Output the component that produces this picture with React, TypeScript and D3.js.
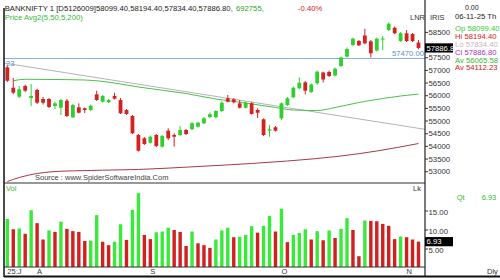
import React from 'react';
import * as d3 from 'd3';

const W = 500;
const H = 280;

// OHLC per trading day (29 Jul 2025 .. 06 Nov 2025)
const opens = [57122, 56316, 55961, 56383, 55910, 56226, 55870, 55870, 55594, 55526,
  55803, 55147, 55542, 55503, 55436, 56056, 55763, 55740, 55989, 55831,
  55436, 55199, 54449, 54319, 54145, 54449, 53987, 54619, 54449, 54449,
  54646, 54674, 54777, 54911, 55160, 55150, 55396, 55898, 55858, 55700,
  55526, 55700, 55436, 55069, 54619, 54753, 55108, 55633, 55937, 56293,
  56529, 56147, 56490, 56916, 56936, 56798, 57173, 57540, 58002, 58160,
  58377, 58148, 57785, 58219, 58594, 58685, 58160, 58464, 58436, 58099.4];
const highs = [57173, 56699, 56383, 56443, 56462, 56277, 55949, 55910, 55763, 55870,
  55870, 55673, 55700, 55534, 55653, 56198, 56028, 55870, 56119, 55910,
  55475, 55238, 54488, 54370, 54429, 54488, 54449, 54713, 54516, 54804,
  54686, 54962, 54982, 55159, 55340, 55420, 55771, 56028, 55910, 55831,
  55771, 55752, 55503, 55100, 54844, 54804, 55732, 55949, 56364, 56727,
  56581, 56482, 56995, 56956, 56995, 57114, 57548, 57903, 58298, 58200,
  58646, 58200, 58298, 58357, 58890, 58732, 58515, 58594, 58476, 58194.4];
const lows = [56541, 56068, 55910, 56147, 55594, 55673, 55653, 55515, 55475, 55238,
  55159, 55120, 55298, 55317, 55396, 55791, 55732, 55712, 55850, 55278,
  55238, 54488, 53797, 54054, 54113, 53975, 53955, 54251, 53987, 54409,
  54449, 54646, 54745, 54883, 55110, 55100, 55357, 55732, 55692, 55495,
  55495, 55258, 55120, 54409, 54382, 54587, 55041, 55594, 55910, 56253,
  56056, 56107, 56423, 56522, 56739, 56759, 57134, 57509, 57963, 57963,
  58030, 57509, 57746, 57804, 58555, 58436, 58120, 58120, 58120, 57834.4];
const closes = [56593, 56119, 56253, 56198, 55989, 55724, 55724, 55554, 55700, 55831,
  55199, 55633, 55329, 55436, 55606, 55831, 55989, 55831, 55882, 55305,
  55278, 54516, 53829, 54093, 54382, 54014, 54409, 54319, 54382, 54646,
  54488, 54911, 54935, 55108, 55270, 55400, 55724, 55763, 55740, 55526,
  55724, 55278, 55329, 54449, 54674, 54619, 55700, 55898, 56316, 56514,
  56198, 56443, 56948, 56640, 56778, 57066, 57509, 57844, 58251, 57990,
  58069, 57674, 58251, 58259, 58843, 58464, 58464, 58160, 58160, 57886.8];

// volume in lakhs
const volumes = [12.9, 10.2, 10.4, 9.0, 15.2, 11.8, 7.5, 9.9, 9.5, 12.2,
  10.3, 9.7, 9.5, 7.1, 7.2, 13.9, 6.9, 6.0, 6.9, 11.5,
  7.4, 15.3, 19.7, 8.7, 7.6, 9.4, 9.6, 10.6, 10.0, 9.5,
  5.8, 9.6, 6.5, 6.0, 5.3, 7.5, 9.9, 10.6, 8.1, 8.2,
  8.7, 11.0, 9.3, 11.1, 13.7, 9.6, 15.6, 6.8, 8.7, 9.2,
  10.2, 7.5, 9.7, 7.3, 9.9, 7.9, 10.3, 13.1, 10.0, 3.1,
  12.5, 12.4, 12.3, 11.6, 11.1, 7.6, 8.3, 8.1, 7.5, 6.93];

// moving averages (read at key candles)
const avg50Idx = [1, 3, 8, 13, 18, 22, 30, 35, 40, 45, 48, 52, 55, 59, 63, 66, 69];
const avg50Vals = [56593, 56650, 56640, 56620, 56502, 56344, 56087, 55870, 55712, 55534,
  55436, 55416, 55534, 55732, 55890, 55989, 56065.58];
const avg200Idx = [0, 2, 5, 10, 22, 32, 41, 47, 56, 62, 69];
const avg200Vals = [52613, 52771, 52929, 53028, 53087, 53205, 53324, 53422, 53620, 53817, 54112.23];

// trend line "23"
const trendIdx = [-0.55, 70.1];
const trendVals = [57290, 54672];

const hLineValue = 57470;

const priceTicks = [53000, 53500, 54000, 54500, 55000, 55500, 56000, 56500, 57000, 57500, 58000, 58500];
const volTicks = [5, 10, 15];

const dateIdx = [0, 5, 24, 46, 67];
const dateLabels = ['25:J', 'A', 'S', 'O', 'N'];

const FONT = '"Liberation Sans", Arial, sans-serif';
const GREEN = '#2fcf2f';
const RED = '#d42222';
const VGREEN = '#3aea3a';
const VRED = '#d21f1f';

export default function App() {
  const left = 4;
  const right = 425;
  const x = d3.scaleLinear().domain([0, 69]).range([7.3, 418.5]);
  const y = d3.scaleLinear().domain([53000, 58500]).range([171.7, 32.4]);
  const yv = d3.scaleLinear().domain([0, 22]).range([268, 184.4]);

  const line = d3.line<[number, number]>()
    .x((d) => x(d[0]))
    .y((d) => y(d[1]))
    .curve(d3.curveMonotoneX);

  const avg50 = line(avg50Idx.map((d, i) => [d, avg50Vals[i]] as [number, number])) || '';
  const avg200 = line(avg200Idx.map((d, i) => [d, avg200Vals[i]] as [number, number])) || '';
  const trend = d3.line<[number, number]>().x((d) => x(d[0])).y((d) => y(d[1]))(
    trendIdx.map((d, i) => [d, trendVals[i]] as [number, number])) || '';

  const bodyW = 3.8;
  const volW = 3.4;
  const last = closes.length - 1;
  const lastClose = closes[last];
  const lastVol = volumes[last];

  return (
    <svg width={W} height={H} style={{ position: 'absolute', left: 0, top: 0, background: '#fff' }}
      fontFamily={FONT}>
      <defs>
        <clipPath id="pclip"><rect x={left} y={0} width={right - left} height={183} /></clipPath>
        <clipPath id="vclip"><rect x={left} y={183} width={right - left} height={84} /></clipPath>
      </defs>
      <rect x={0} y={0} width={W} height={H} fill="#fff" />

      {/* header */}
      <text x={4.7} y={11} fontSize={7.7} fill="#222">BANKNIFTY 1 [D5126009]58099.40,58194.40,57834.40,57886.80,</text>
      <text x={236} y={11} fontSize={7.7} fill="#22aa22">692755,</text>
      <text x={298} y={11} fontSize={7.7} fill={RED}>-0.40%</text>
      <text x={4.7} y={19.5} fontSize={7.7} fill="#33bb33">Price  Avg2(5,50,5,200)</text>

      {/* price pane */}
      <g clipPath="url(#pclip)">
        <line x1={left} x2={right} y1={y(hLineValue)} y2={y(hLineValue)} stroke="#86b4d6" strokeWidth={1} />
        <path d={trend} fill="none" stroke="#b4b4b4" strokeWidth={1} />
        <path d={avg50} fill="none" stroke="#4cbf4c" strokeWidth={1} />
        <path d={avg200} fill="none" stroke="#a8384c" strokeWidth={1} />
        {opens.map((o, i) => {
          const c = closes[i];
          const up = c >= o;
          const col = up ? GREEN : RED;
          const cx = x(i);
          const top = y(Math.max(o, c));
          const bot = y(Math.min(o, c));
          return (
            <g key={i}>
              <line x1={cx} x2={cx} y1={y(highs[i])} y2={y(lows[i])} stroke={col} strokeWidth={1} />
              <rect x={cx - bodyW / 2} y={top} width={bodyW} height={Math.max(1, bot - top)} fill={col} />
            </g>
          );
        })}
      </g>
      <text x={6} y={65.5} fontSize={7.5} fill="#5a8fc8">23</text>
      <text x={424} y={56} fontSize={7.7} fill="#5a8fc8" textAnchor="end">57470.00</text>
      <text x={410} y={19.5} fontSize={7.5} fill="#333">LNR</text>
      <text x={430} y={19.5} fontSize={7.5} fill="#333">IRIS</text>
      <text x={35} y={180} fontSize={7.5} fill="#444">Source : www.SpiderSoftwareIndia.Com</text>

      {/* volume pane */}
      <g clipPath="url(#vclip)">
        {volumes.map((v, i) => {
          const up = i === 0 || v >= volumes[i - 1];
          const cx = x(i);
          return (
            <rect key={i} x={cx - volW / 2} y={yv(v)} width={volW} height={yv(0) - yv(v)} fill={up ? VGREEN : VRED} />
          );
        })}
      </g>
      <text x={6} y={190.5} fontSize={7.5} fill="#33bb33">Vol</text>
      <text x={413} y={190.5} fontSize={7.5} fill="#333">Lk</text>

      {/* frame */}
      <line x1={left} x2={right} y1={183} y2={183} stroke="#333" strokeWidth={1} />
      <line x1={left} x2={right} y1={267} y2={267} stroke="#333" strokeWidth={1} />
      <line x1={right} x2={right} y1={0} y2={276} stroke="#222" strokeWidth={1.2} />
      <line x1={left} x2={left} y1={8} y2={277} stroke="#111" strokeWidth={1.5} />
      <line x1={left} x2={W} y1={276.5} y2={276.5} stroke="#111" strokeWidth={2} />

      {/* price axis */}
      {priceTicks.map((t) => (
        <g key={t}>
          <line x1={right} x2={right + 3} y1={y(t)} y2={y(t)} stroke="#333" strokeWidth={1} />
          {Math.abs(y(t) - y(lastClose)) > 6 && (
            <text x={428.5} y={y(t)} dy="0.35em" fontSize={7.8} fill="#333">{t}</text>
          )}
        </g>
      ))}
      <rect x={right} y={y(lastClose) - 4.6} width={28} height={9.2} fill="#000" />
      <text x={right + 1.5} y={y(lastClose)} dy="0.35em" fontSize={7.7} fill="#fff">{lastClose.toFixed(1)}</text>

      {/* volume axis */}
      {volTicks.map((t) => (
        <g key={t}>
          <line x1={right} x2={right + 3} y1={yv(t)} y2={yv(t)} stroke="#333" strokeWidth={1} />
          <text x={428.5} y={yv(t) + 1.5} dy="0.35em" fontSize={7.8} fill="#333">{t.toFixed(2)}</text>
        </g>
      ))}
      <rect x={right} y={yv(lastVol) - 4.6} width={28} height={9.2} fill="#000" />
      <text x={right + 1.5} y={yv(lastVol)} dy="0.35em" fontSize={7.7} fill="#fff">{lastVol.toFixed(2)}</text>

      {/* right info panel */}
      <text x={465} y={9.5} fontSize={7} fill="#222">0.00</text>
      <text x={455} y={18.5} fontSize={7.7} fill="#222">06-11-25 Th</text>
      <text x={455} y={30.5} fontSize={7.7} fill="#33cc33">Op 58099.40</text>
      <text x={455} y={39} fontSize={7.7} fill={RED}>Hi 58194.40</text>
      <text x={455} y={47} fontSize={7.7} fill="#bbbbbb">Lo 57834.40</text>
      <text x={455} y={55} fontSize={7.7} fill="#b030c8">Cl 57886.80</text>
      <text x={455} y={62.5} fontSize={7.7} fill="#33bb33">Av 56065.58</text>
      <text x={455} y={70} fontSize={7.7} fill={RED}>Av 54112.23</text>
      <text x={456.7} y={199.5} fontSize={7.5} fill="#33bb33">Qt</text>
      <text x={481.7} y={199.5} fontSize={7.5} fill="#33bb33">6.93</text>
      <text x={487} y={274} fontSize={7.5} fill="#333">Dly</text>

      {/* date axis */}
      {dateIdx.map((d, i) => (
        <text key={i} x={x(d)} y={274} fontSize={7.5} fill="#333">{dateLabels[i]}</text>
      ))}
    </svg>
  );
}
